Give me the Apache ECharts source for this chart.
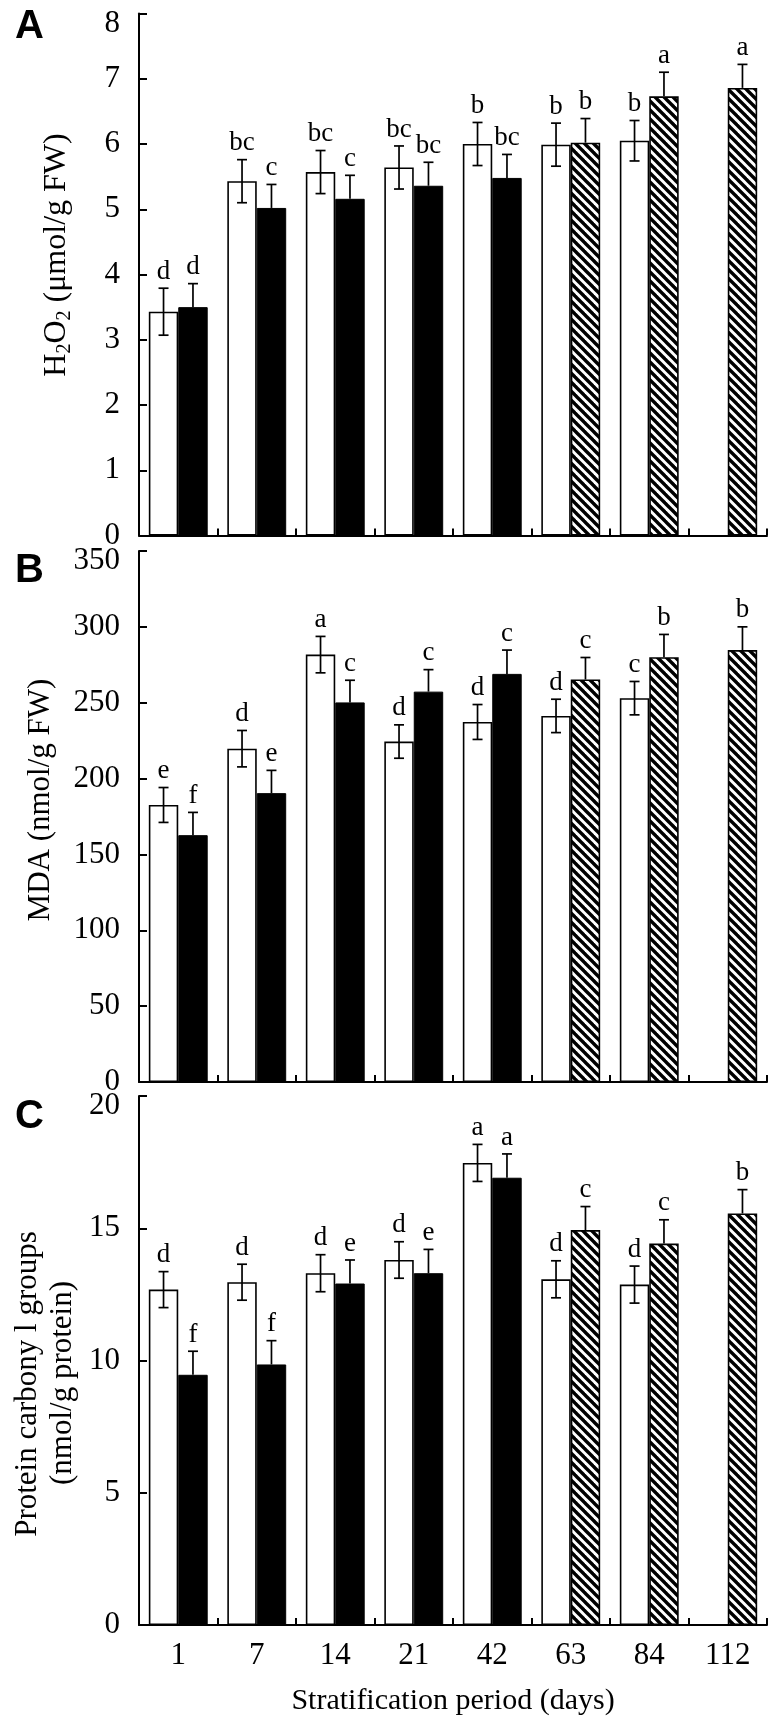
<!DOCTYPE html>
<html><head><meta charset="utf-8">
<script src="https://cdn.jsdelivr.net/npm/echarts@6/dist/echarts.min.js"></script>
<style>html,body{margin:0;padding:0;background:#fff}#c{width:776px;height:1725px}</style>
</head><body><div id="c"></div>
<script>
// ---------- data ----------
const days = ['1', '7', '14', '21', '42', '63', '84', '112'];

// Panel A: H2O2
const h2o2White        = [3.43, 5.43, 5.57, 5.64, 6.00, 5.99, 6.05, null];
const h2o2WhiteErr     = [0.36, 0.33, 0.33, 0.33, 0.33, 0.33, 0.31, null];
const h2o2WhiteLetters = ['d', 'bc', 'bc', 'bc', 'b', 'b', 'b', ''];
const h2o2Black        = [3.50, 5.02, 5.16, 5.36, 5.48, null, null, null];
const h2o2Hatched      = [null, null, null, null, null, 6.02, 6.73, 6.86];
const h2o2RightErr     = [0.36, 0.36, 0.36, 0.36, 0.36, 0.37, 0.37, 0.36];
const h2o2RightLetters = ['d', 'c', 'c', 'bc', 'bc', 'b', 'a', 'a'];

// Panel B: MDA
const mdaWhite        = [182.6, 219.7, 281.7, 224.4, 237.3, 241.3, 253.0, null];
const mdaWhiteErr     = [11.5, 12, 12, 11, 11.5, 11, 11, null];
const mdaWhiteLetters = ['e', 'd', 'a', 'd', 'd', 'd', 'c', ''];
const mdaBlack        = [162.7, 190.4, 250.2, 257.3, 269.0, null, null, null];
const mdaHatched      = [null, null, null, null, null, 265.3, 280.0, 284.7];
const mdaRightErr     = [15, 15, 14.6, 14.5, 15.7, 14.5, 15, 15.3];
const mdaRightLetters = ['f', 'e', 'c', 'c', 'c', 'c', 'b', 'b'];

// Panel C: protein carbonyl groups
const pcWhite        = [12.68, 12.96, 13.30, 13.80, 17.47, 13.07, 12.87, null];
const pcWhiteErr     = [0.68, 0.68, 0.70, 0.69, 0.70, 0.70, 0.70, null];
const pcWhiteLetters = ['d', 'd', 'd', 'd', 'a', 'd', 'd', ''];
const pcBlack        = [9.46, 9.85, 12.91, 13.30, 16.91, null, null, null];
const pcHatched      = [null, null, null, null, null, 14.93, 14.42, 15.56];
const pcRightErr     = [0.89, 0.90, 0.89, 0.90, 0.90, 0.89, 0.90, 0.90];
const pcRightLetters = ['f', 'f', 'e', 'e', 'a', 'c', 'c', 'b'];

// axis ranges
const yMaxA = 8,   yStepA = 1;
const yMaxB = 350, yStepB = 50;
const yMaxC = 20,  yStepC = 5;

// ---------- styling ----------
const SERIF = '"Liberation Serif", "Times New Roman", Times, serif';
const SANS = '"Liberation Sans", Arial, Helvetica, sans-serif';
const CAT_GAP = 0.25;
const TICK_FS = 31;
const LETTER_FS = 27;

function makeHatch() {
  const P = 9;
  const c = document.createElement('canvas');
  c.width = P; c.height = P;
  const g = c.getContext('2d');
  g.fillStyle = '#fff'; g.fillRect(0, 0, P, P);
  g.strokeStyle = '#000'; g.lineWidth = 3.4;
  for (const o of [-P, 0, P]) {
    g.beginPath(); g.moveTo(o - 3, -3); g.lineTo(o + P + 3, P + 3); g.stroke();
  }
  return c;
}
const hatchFill = { image: makeHatch(), repeat: 'repeat' };
const whiteStyle = { color: '#fff', borderColor: '#000', borderWidth: 1.6 };
const blackStyle = { color: '#000', borderColor: '#000', borderWidth: 1 };
const hatchStyle = { color: hatchFill, borderColor: '#000', borderWidth: 1.6 };

const grids = [
  { left: 139, right: 9, top: 13.5, height: 522 },
  { left: 139, right: 9, top: 551, height: 531 },
  { left: 139, right: 9, top: 1096, height: 529 }
];

const panels = [
  { max: yMaxA, step: yStepA, white: h2o2White, wErr: h2o2WhiteErr, wLet: h2o2WhiteLetters,
    black: h2o2Black, hatched: h2o2Hatched, rErr: h2o2RightErr, rLet: h2o2RightLetters },
  { max: yMaxB, step: yStepB, white: mdaWhite, wErr: mdaWhiteErr, wLet: mdaWhiteLetters,
    black: mdaBlack, hatched: mdaHatched, rErr: mdaRightErr, rLet: mdaRightLetters },
  { max: yMaxC, step: yStepC, white: pcWhite, wErr: pcWhiteErr, wLet: pcWhiteLetters,
    black: pcBlack, hatched: pcHatched, rErr: pcRightErr, rLet: pcRightLetters }
];

const xAxes = [], yAxes = [], series = [];

panels.forEach((p, k) => {
  xAxes.push({
    gridIndex: k, type: 'category', data: days, boundaryGap: true,
    axisLine: { show: true, onZero: true, lineStyle: { color: '#000', width: 2 } },
    axisTick: { show: true, inside: true, length: 7, lineStyle: { color: '#000', width: 2 } },
    axisLabel: { show: k === 2, color: '#000', fontFamily: SERIF, fontSize: TICK_FS, margin: 15 },
    splitLine: { show: false }
  });
  yAxes.push({
    gridIndex: k, type: 'value', min: 0, max: p.max, interval: p.step,
    axisLine: { show: true, lineStyle: { color: '#000', width: 2 } },
    axisTick: { show: true, inside: true, length: 8, lineStyle: { color: '#000', width: 2 } },
    axisLabel: {
      color: '#000', fontFamily: SERIF, fontSize: TICK_FS, margin: 19,
      formatter: v => (v === p.max ? '{top|' + v + '}' : String(v)),
      rich: { top: { color: '#000', fontFamily: SERIF, fontSize: TICK_FS, padding: [20, 0, 0, 0] } }
    },
    splitLine: { show: false }
  });

  series.push({
    type: 'bar', xAxisIndex: k, yAxisIndex: k, barGap: '0%', barCategoryGap: (CAT_GAP * 100) + '%',
    data: p.white, itemStyle: whiteStyle, z: 2
  });
  const right = days.map((d, i) => {
    if (p.black[i] != null) return { value: p.black[i], itemStyle: blackStyle };
    if (p.hatched[i] != null) return { value: p.hatched[i], itemStyle: hatchStyle };
    return null;
  });
  series.push({
    type: 'bar', xAxisIndex: k, yAxisIndex: k, barGap: '0%', barCategoryGap: (CAT_GAP * 100) + '%',
    data: right, z: 2
  });

  const items = [];
  days.forEach((d, i) => {
    if (p.white[i] != null) items.push({ cat: i, val: p.white[i], err: p.wErr[i], slot: 0, letter: p.wLet[i], lower: true });
    const rv = p.black[i] != null ? p.black[i] : p.hatched[i];
    if (rv != null) items.push({ cat: i, val: rv, err: p.rErr[i], slot: 1, letter: p.rLet[i], lower: false });
  });

  series.push({
    type: 'custom', xAxisIndex: k, yAxisIndex: k, z: 10, clip: false,
    data: items.map(it => [it.cat, it.val + it.err]),
    renderItem: (params, api) => {
      const it = items[params.dataIndex];
      const band = api.size([1, 0])[0];
      const bw = band * (1 - CAT_GAP) / 2;
      const base = api.coord([it.cat, it.val]);
      const cx = base[0] + (it.slot ? bw / 2 : -bw / 2);
      const yVal = base[1];
      const yTop = api.coord([it.cat, it.val + it.err])[1];
      const yBot = api.coord([it.cat, it.val - it.err])[1];
      const half = 5;
      const ls = { stroke: '#000', lineWidth: 1.7 };
      const ch = [
        { type: 'line', shape: { x1: cx, y1: yTop, x2: cx, y2: it.lower ? yBot : yVal }, style: ls },
        { type: 'line', shape: { x1: cx - half, y1: yTop, x2: cx + half, y2: yTop }, style: ls }
      ];
      if (it.lower) ch.push({ type: 'line', shape: { x1: cx - half, y1: yBot, x2: cx + half, y2: yBot }, style: ls });
      if (it.letter) ch.push({
        type: 'text', x: cx, y: yTop - 3,
        style: { text: it.letter, fill: '#000', fontFamily: SERIF, fontSize: LETTER_FS, align: 'center', verticalAlign: 'bottom' }
      });
      return { type: 'group', children: ch };
    }
  });
});

function titleStyle(size, text) {
  return { text: text, fill: '#000', fontFamily: SERIF, fontSize: size, align: 'center', verticalAlign: 'middle' };
}
const panelLetter = (t, y) => ({ type: 'text', x: 15, y: y,
  style: { text: t, fill: '#000', fontFamily: SANS, fontWeight: 'bold', fontSize: 40, align: 'left', verticalAlign: 'middle' } });

const graphics = [
  panelLetter('A', 27),
  panelLetter('B', 571),
  panelLetter('C', 1117),
  { type: 'text', x: 57, y: 255, rotation: Math.PI / 2,
    style: {
      text: '{n|H}{s|2}{n|O}{s|2}{n| (μmol/g FW)}', align: 'center', verticalAlign: 'middle',
      rich: {
        n: { fill: '#000', color: '#000', fontFamily: SERIF, fontSize: 32, lineHeight: 36 },
        s: { fill: '#000', color: '#000', fontFamily: SERIF, fontSize: 20, lineHeight: 25, verticalAlign: 'bottom' }
      }
    } },
  { type: 'text', x: 41, y: 800, rotation: Math.PI / 2, style: titleStyle(31, 'MDA (nmol/g FW)') },
  { type: 'text', x: 28, y: 1384, rotation: Math.PI / 2, style: titleStyle(31, 'Protein carbony l groups') },
  { type: 'text', x: 63, y: 1383, rotation: Math.PI / 2, style: titleStyle(31, '(nmol/g protein)') },
  { type: 'text', x: 453, y: 1701, style: titleStyle(30, 'Stratification period (days)') }
];

const chart = echarts.init(document.getElementById('c'), null, { renderer: 'canvas' });
chart.setOption({
  animation: false,
  backgroundColor: '#fff',
  grid: grids.map(g => Object.assign({ containLabel: false, outerBoundsMode: 'none' }, g)),
  xAxis: xAxes,
  yAxis: yAxes,
  series: series,
  graphic: { elements: graphics }
});
</script>
</body></html>
